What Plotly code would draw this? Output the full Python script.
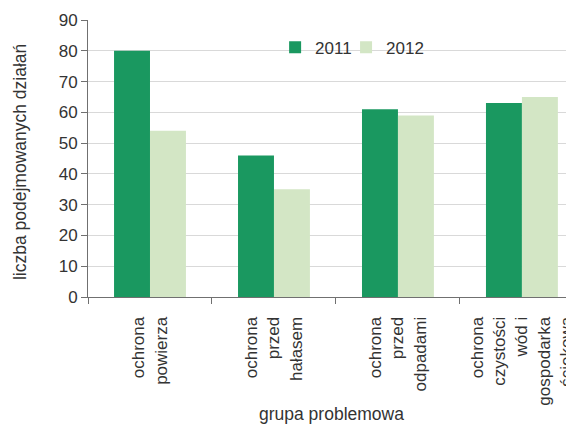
import plotly.graph_objects as go

# dane
kategorie = ["ochrona<br>powierza", "ochrona<br>przed<br>hałasem", "ochrona<br>przed<br>odpadami",
             "ochrona<br>czystości<br>wód i<br>gospodarka<br>ściekowa"]
lata = ["2011", "2012"]
wartosci_2011 = [80, 46, 61, 63]
wartosci_2012 = [54, 35, 59, 65]

kolory = ["#1a9860", "#d3e6c5"]

fig = go.Figure()
fig.add_trace(go.Bar(x=kategorie, y=wartosci_2011, name=lata[0], marker_color=kolory[0],
                     marker_line_width=0, legend="legend", showlegend=True))
fig.add_trace(go.Bar(x=kategorie, y=wartosci_2012, name=lata[1], marker_color=kolory[1],
                     marker_line_width=0, legend="legend2", showlegend=True))

# strona ma margines 8px, więc marginesy figury są przesunięte
fig.update_layout(
    width=574, height=425,
    margin=dict(l=80, r=8, t=12, b=136),
    barmode="group", bargap=0.42, bargroupgap=0,
    plot_bgcolor="white", paper_bgcolor="white",
    showlegend=True,
    font=dict(family="Liberation Sans, Arial", size=17, color="#333333"),
    legend=dict(x=0.385, y=0.9, xanchor="left", yanchor="middle",
                bgcolor="rgba(0,0,0,0)", font=dict(size=17), itemwidth=30),
    legend2=dict(x=0.531, y=0.9, xanchor="left", yanchor="middle",
                 bgcolor="rgba(0,0,0,0)", font=dict(size=17), itemwidth=30),
    # białe tło pod legendą (zasłania linię siatki)
    shapes=[dict(type="rect", xref="paper", yref="paper", x0=0.39, x1=0.735, y0=0.86, y1=0.935,
                 fillcolor="white", line_width=0, layer="below")],
    # tytuły osi jako adnotacje
    annotations=[
        dict(text="grupa problemowa", xref="paper", yref="paper", x=0.5, y=-0.422,
             xanchor="center", yanchor="middle", showarrow=False, font=dict(size=17.5)),
        dict(text="liczba podejmowanych działań", xref="paper", yref="paper", x=-0.14, y=0.487,
             xanchor="center", yanchor="middle", textangle=-90, showarrow=False, font=dict(size=17.5)),
    ],
)
fig.update_xaxes(
    range=[-0.5, 3.42], tickangle=-90, tickson="boundaries", automargin=False,
    ticks="outside", ticklen=6, tickcolor="#707070", ticklabelstandoff=12,
    showline=True, linecolor="#707070", linewidth=1,
)
fig.update_yaxes(
    range=[0, 90], dtick=10, showgrid=True, gridcolor="#d9d9d9", automargin=False,
    ticks="outside", ticklen=6, tickcolor="#707070",
    showline=True, linecolor="#707070", linewidth=1, zeroline=False,
)

fig.write_html("out.html")
